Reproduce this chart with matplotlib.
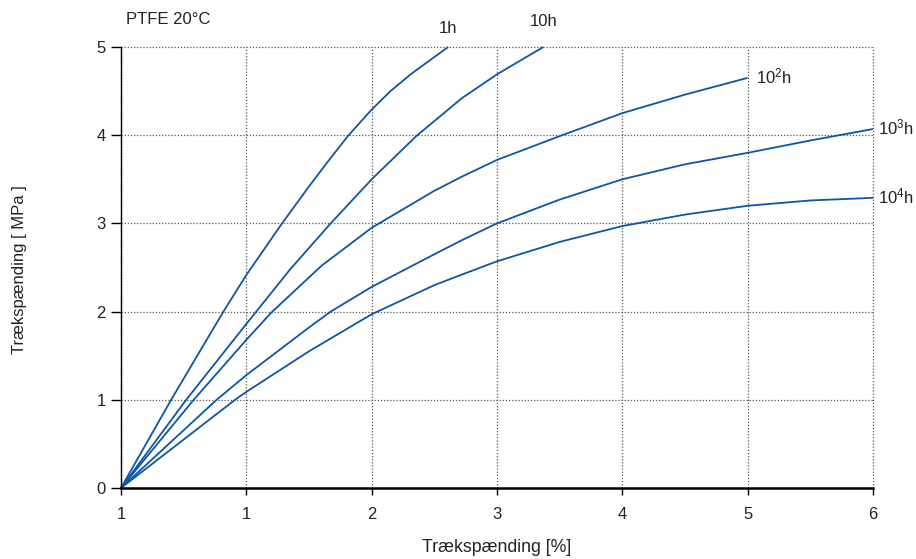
import numpy as np
import matplotlib
matplotlib.use("Agg")
import matplotlib.pyplot as plt

# Creep curves for PTFE at 20°C (strain in %, stress in MPa)
x_1h = [0, 0.40, 0.817, 1.0, 1.28, 1.49, 1.65, 1.81, 2.0, 2.15, 2.32, 2.61]
y_1h = [0, 1.0, 2.0, 2.415, 2.99, 3.40, 3.70, 3.99, 4.29, 4.50, 4.70, 5.0]

x_10h = [0, 0.52, 1.0, 1.35, 1.673, 2.0, 2.356, 2.72, 3.0, 3.37]
y_10h = [0, 1.0, 1.86, 2.48, 3.0, 3.5, 3.99, 4.42, 4.69, 5.0]

x_100h = [0, 0.58, 1.0, 1.2, 1.6, 2.0, 2.5, 2.72, 3.0, 3.52, 4.0, 4.5, 5.0]
y_100h = [0, 1.0, 1.68, 1.99, 2.52, 2.95, 3.37, 3.53, 3.72, 4.0, 4.25, 4.46, 4.65]

x_1000h = [0, 0.763, 1.0, 1.5, 1.673, 2.0, 2.5, 2.72, 3.0, 3.5, 4.0, 4.5, 5.0, 5.5, 6.0]
y_1000h = [0, 1.0, 1.28, 1.82, 2.0, 2.28, 2.65, 2.81, 3.0, 3.27, 3.50, 3.67, 3.80, 3.94, 4.07]

x_10000h = [0, 0.91, 1.0, 1.5, 2.0, 2.5, 2.72, 3.0, 3.5, 4.0, 4.5, 5.0, 5.5, 6.0]
y_10000h = [0, 1.0, 1.09, 1.55, 1.97, 2.30, 2.42, 2.57, 2.79, 2.97, 3.10, 3.20, 3.26, 3.29]

x_ticks = [0, 1, 2, 3, 4, 5, 6]
x_tick_labels = ["1", "1", "2", "3", "4", "5", "6"]
y_ticks = [0, 1, 2, 3, 4, 5]

curves = [
    (x_1h, y_1h),
    (x_10h, y_10h),
    (x_100h, y_100h),
    (x_1000h, y_1000h),
    (x_10000h, y_10000h),
]

plt.rcParams["font.family"] = ["Liberation Sans", "DejaVu Sans"]
plt.rcParams["mathtext.fontset"] = "custom"
plt.rcParams["mathtext.rm"] = "Liberation Sans"
plt.rcParams["mathtext.default"] = "regular"
text_color = "#222222"
line_color = "#0d56a1"
fs = 12

fig = plt.figure(figsize=(9.16, 5.59), dpi=100)
ax = fig.add_axes([121 / 916, 71 / 559, 752 / 916, 441 / 559])

for xs, ys in curves:
    ax.plot(xs, ys, color=line_color, lw=1.3, clip_on=False, solid_capstyle="butt")

# curve labels
ax.text(x_1h[-1], y_1h[-1] + 0.13, "1h", ha="center", va="bottom", fontsize=fs, color=text_color)
ax.text(x_10h[-1], y_10h[-1] + 0.2, "10h", ha="center", va="bottom", fontsize=fs, color=text_color)
ax.text(x_100h[-1] + 0.07, y_100h[-1] + 0.02, "10$^2$h", ha="left", va="center", fontsize=fs, color=text_color)
ax.text(x_1000h[-1] + 0.04, y_1000h[-1] + 0.02, "10$^3$h", ha="left", va="center", fontsize=fs, color=text_color)
ax.text(x_10000h[-1] + 0.04, y_10000h[-1] + 0.02, "10$^4$h", ha="left", va="center", fontsize=fs, color=text_color)

ax.set_xlim(0, 6)
ax.set_ylim(0, 5)
ax.set_xticks(x_ticks)
ax.set_xticklabels(x_tick_labels)
ax.set_yticks(y_ticks)

ax.grid(True, linestyle=(0, (1, 1.5)), color="#555555", lw=0.9)
ax.set_axisbelow(True)
for gl in ax.get_xgridlines() + ax.get_ygridlines():
    gl.set_clip_on(False)

for side in ["top", "right"]:
    ax.spines[side].set_visible(False)
ax.spines["left"].set_linewidth(1.0)
ax.spines["bottom"].set_linewidth(1.8)
ax.tick_params(axis="y", direction="out", length=7, width=1, pad=4, labelsize=fs, labelcolor=text_color)
ax.tick_params(axis="x", direction="out", length=5, width=1, pad=9, labelsize=fs, labelcolor=text_color)

fig.text(497 / 916, 1 - 548 / 559, "Trækspænding [%]", ha="center", va="center",
         fontsize=12.8, color=text_color)
fig.text(20 / 916, 1 - 270 / 559, "Trækspænding [ MPa ]", ha="center", va="center",
         rotation=90, fontsize=12, color=text_color)

fig.text(126 / 916, 1 - 20 / 559, "PTFE 20°C", ha="left", va="center", fontsize=fs, color=text_color)

fig.savefig("out.png", dpi=100)
